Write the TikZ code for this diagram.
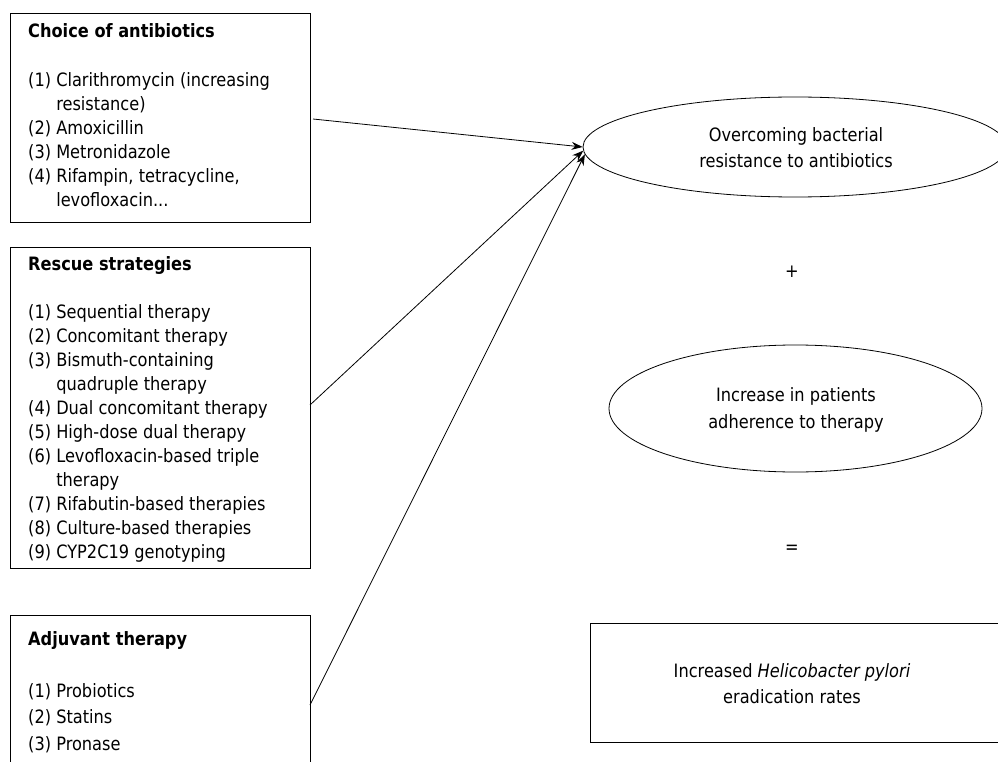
\documentclass[tikz,border=0pt]{standalone}
\usepackage{fontspec}
\setmainfont[FakeStretch=0.88]{DejaVu Sans}
\usetikzlibrary{arrows.meta,shapes.geometric}
\begin{document}
\begin{tikzpicture}[x=1pt,y=-1pt,
  box/.style={draw, line width=0.9pt, inner sep=0pt, anchor=north west},
  oval/.style={draw, ellipse, line width=0.8pt, inner sep=0pt},
  txt/.style={anchor=base west, inner sep=0pt},
  ctr/.style={anchor=base, inner sep=0pt},
  sym/.style={inner sep=0pt, font=\fontsize{18.4}{20}\selectfont},
  arr/.style={line width=0.8pt, -{Stealth[length=11pt,width=8pt]}}]
\useasboundingbox (0,0) rectangle (998,762);

% left boxes
\node[box, minimum width=300pt, minimum height=209pt] (b1) at (10,13) {};
\node[box, minimum width=300pt, minimum height=321pt] (b2) at (10,247) {};
\node[box, minimum width=300pt, minimum height=180pt] (b3) at (10,615) {};

\node[txt] (t1) at (28,38) {\parbox[t]{400pt}{\raggedright\fontsize{18.4}{24.1}\selectfont
\textbf{Choice of antibiotics}\\
\mbox{}\\
(1) Clarithromycin (increasing\\
\phantom{(1) }resistance)\\
(2) Amoxicillin\\
(3) Metronidazole\\
(4) Rifampin, tetracycline,\\
\phantom{(4) }levofloxacin...}};

\node[txt] (t2) at (28,270) {\parbox[t]{400pt}{\raggedright\fontsize{18.4}{24.0}\selectfont
\textbf{Rescue strategies}\\
\mbox{}\\
(1) Sequential therapy\\
(2) Concomitant therapy\\
(3) Bismuth-containing\\
\phantom{(3) }quadruple therapy\\
(4) Dual concomitant therapy\\
(5) High-dose dual therapy\\
(6) Levofloxacin-based triple\\
\phantom{(6) }therapy\\
(7) Rifabutin-based therapies\\
(8) Culture-based therapies\\
(9) CYP2C19 genotyping}};

\node[txt] (t3) at (28,645) {\parbox[t]{400pt}{\raggedright\fontsize{18.4}{26.3}\selectfont
\textbf{Adjuvant therapy}\\
\mbox{}\\
(1) Probiotics\\
(2) Statins\\
(3) Pronase}};

% right column
\node[oval, minimum width=424pt, minimum height=100pt] (e1) at (795,147) {};
\node[ctr] (e1t) at (796,142) {\parbox[t]{400pt}{\centering\fontsize{18.4}{26}\selectfont
Overcoming bacterial\\resistance to antibiotics}};

\node[sym] (plus) at (792,272) {+};

\node[oval, minimum width=373pt, minimum height=127pt] (e2) at (795.5,408.5) {};
\node[ctr] (e2t) at (796,401) {\parbox[t]{400pt}{\centering\fontsize{18.4}{27}\selectfont
Increase in patients\\adherence to therapy}};

\node[sym] (eq) at (792,549) {=};

\node[box, minimum width=420pt, minimum height=119pt] (b4) at (590,623) {};
\node[ctr] (t4) at (792,677) {\parbox[t]{400pt}{\centering\fontsize{18.4}{26}\selectfont
Increased \textit{Helicobacter pylori}\\eradication rates}};

% arrows
\coordinate (s1) at (313,119);
\coordinate (s2) at (310,405);
\coordinate (s3) at (310,705);
\draw[arr] (s1) -- (e1.west);
\draw[arr] (s2) -- (e1.181);
\draw[arr] (s3) -- (e1.182);
\end{tikzpicture}
\end{document}
